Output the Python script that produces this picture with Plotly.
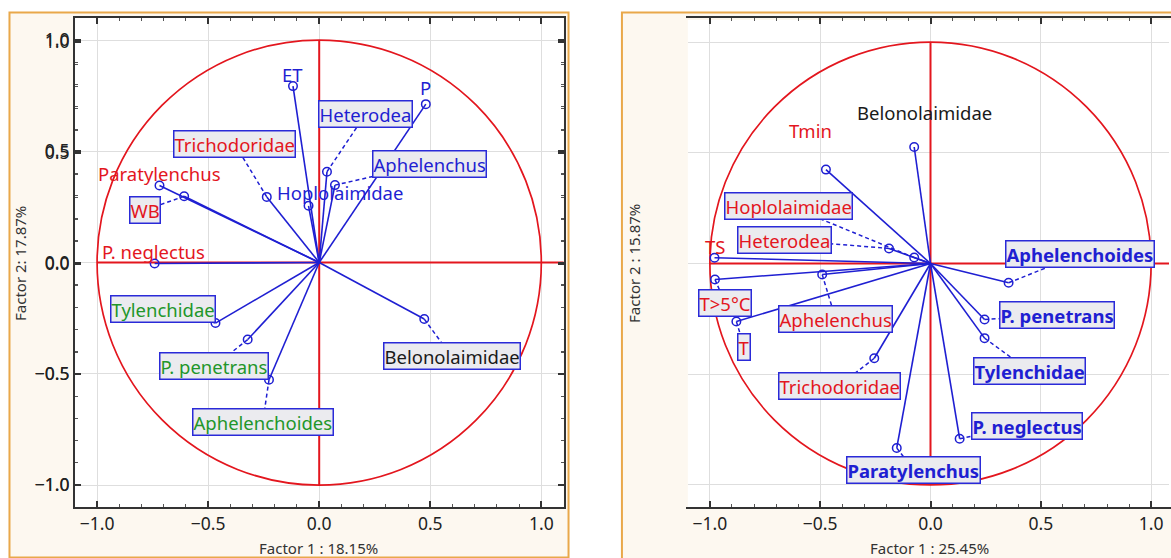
import plotly.graph_objects as go

# ---------------- data ----------------
left_vars = ["ET", "P", "Heterodea", "Aphelenchus", "Hoplolaimidae", "Trichodoridae",
             "Paratylenchus", "WB", "P. neglectus", "Tylenchidae", "P. penetrans",
             "Aphelenchoides", "Belonolaimidae"]
left_f1 = [-0.118, 0.480, 0.035, 0.071, -0.048, -0.236, -0.719, -0.608, -0.741,
           -0.467, -0.322, -0.226, 0.473]
left_f2 = [0.793, 0.712, 0.408, 0.348, 0.255, 0.295, 0.346, 0.298, -0.004,
           -0.272, -0.346, -0.527, -0.254]

right_vars = ["Belonolaimidae", "Tmin", "Hoplolaimidae", "Heterodea", "TS", "T>5°C",
              "Aphelenchus", "T", "Trichodoridae", "Aphelenchoides", "P. penetrans",
              "Tylenchidae", "P. neglectus", "Paratylenchus"]
right_f1 = [-0.074, -0.474, -0.074, -0.188, -0.979, -0.977, -0.491, -0.880, -0.255,
            0.354, 0.245, 0.245, 0.132, -0.153]
right_f2 = [0.526, 0.424, 0.027, 0.068, 0.026, -0.072, -0.050, -0.262, -0.428,
            -0.087, -0.253, -0.337, -0.791, -0.833]

left_x_title = "Factor 1 : 18.15%"
left_y_title = "Factor 2: 17.87%"
right_x_title = "Factor 1 : 25.45%"
right_y_title = "Factor 2 : 15.87%"
tick_vals = [-1.0, -0.5, 0.0, 0.5, 1.0]

# ---------------- label layout (positions / styles) ----------------
RED = "#E3161E"
BLUE = "#1F1FD2"
GREEN = "#22962A"
BLACK = "#1A1A1A"

left_lab_pos = [(-0.118, 0.847), (0.480, 0.787), (0.208, 0.666), (0.497, 0.445),
                (0.095, 0.313), (-0.380, 0.532), (-0.719, 0.400), (-0.786, 0.235),
                (-0.744, 0.048), (-0.703, -0.209), (-0.473, -0.466), (-0.254, -0.716),
                (0.596, -0.422)]
left_lab_col = [BLUE, BLUE, BLUE, BLUE, BLUE, RED, RED, RED, RED, GREEN, GREEN, GREEN, BLACK]
left_lab_box = [False, False, True, True, False, True, False, True, False, True, True, True, True]
left_lab_bold = [False] * 13

right_lab_pos = [(-0.026, 0.682), (-0.545, 0.600), (-0.644, 0.261), (-0.660, 0.106),
                 (-0.979, 0.078), (-0.931, -0.178), (-0.430, -0.250), (-0.845, -0.375),
                 (-0.413, -0.551), (0.679, 0.042), (0.572, -0.232), (0.450, -0.486),
                 (0.437, -0.732), (-0.077, -0.931)]
right_lab_col = [BLACK, RED, RED, RED, RED, RED, RED, RED, RED, BLUE, BLUE, BLUE, BLUE, BLUE]
right_lab_box = [False, False, True, True, False, True, True, True, True, True, True, True, True, True]
right_lab_bold = [False] * 9 + [True] * 5

FONT = "Noto Sans"
W, H = 1171, 558

fig = go.Figure()


def px_x(p):
    return p / W


def px_y(p):
    return 1 - p / H


# domains (pixel-based)
fig.update_layout(
    xaxis=dict(domain=[px_x(75), px_x(564.5)]),
    yaxis=dict(domain=[px_y(507.3), px_y(17.8)]),
    xaxis2=dict(domain=[px_x(689), 1.0]),
    yaxis2=dict(domain=[px_y(507.1), px_y(19.9)]),
)


def add_panel(xa, ya, f1, f2, lab_pos, lab_col, lab_box, lab_bold, names):
    # red unit circle and axes
    fig.add_shape(type="circle", xref=xa, yref=ya, x0=-1, y0=-1, x1=1, y1=1,
                  line=dict(color=RED, width=1.7), layer="between")
    fig.add_trace(go.Scatter(x=[-1, 1.12], y=[0, 0], mode="lines", xaxis=xa, yaxis=ya,
                             line=dict(color=RED, width=2), hoverinfo="skip", showlegend=False))
    fig.add_trace(go.Scatter(x=[0, 0], y=[-1, 1], mode="lines", xaxis=xa, yaxis=ya,
                             line=dict(color=RED, width=2), hoverinfo="skip", showlegend=False))
    # leader lines (dashed) to boxed labels
    for i in range(len(f1)):
        if lab_box[i]:
            fig.add_trace(go.Scatter(x=[f1[i], lab_pos[i][0]], y=[f2[i], lab_pos[i][1]],
                                     mode="lines", xaxis=xa, yaxis=ya,
                                     line=dict(color=BLUE, width=1.5, dash="4px,3px"),
                                     hoverinfo="skip", showlegend=False))
    # loading vectors
    for i in range(len(f1)):
        fig.add_trace(go.Scatter(x=[0, f1[i]], y=[0, f2[i]], mode="lines", xaxis=xa, yaxis=ya,
                                 line=dict(color=BLUE, width=1.6), hoverinfo="skip",
                                 showlegend=False))
    fig.add_trace(go.Scatter(x=f1, y=f2, mode="markers", xaxis=xa, yaxis=ya, text=names,
                             marker=dict(symbol="circle-open", size=8.5, color=BLUE,
                                         line=dict(width=1.5, color=BLUE)),
                             showlegend=False))
    # labels
    for i in range(len(f1)):
        txt = f"<b>{names[i]}</b>" if lab_bold[i] else names[i]
        kw = dict(x=lab_pos[i][0], y=lab_pos[i][1], xref=xa, yref=ya, text=txt,
                  showarrow=False, font=dict(family=FONT, size=18.5, color=lab_col[i]),
                  xanchor="center", yanchor="middle")
        if lab_box[i]:
            kw.update(bgcolor="#EBEBEF", bordercolor="#2A2AD8", borderwidth=1.5, borderpad=0)
        fig.add_annotation(**kw)


add_panel("x", "y", left_f1, left_f2, left_lab_pos, left_lab_col, left_lab_box,
          left_lab_bold, left_vars)
add_panel("x2", "y2", right_f1, right_f2, right_lab_pos, right_lab_col, right_lab_box,
          right_lab_bold, right_vars)

axis_common = dict(
    tickvals=tick_vals, tickformat=".1f", showgrid=True, gridcolor="#DEDEDE", gridwidth=1.2,
    zeroline=False, showline=True, linecolor="#333333", linewidth=1.8, mirror="allticks",
    ticks="inside", ticklen=6, tickwidth=1.5, tickcolor="#333333",
    minor=dict(dtick=0.1, tick0=0, ticks="inside", ticklen=3, tickcolor="#555555",
               tickwidth=1, showgrid=False),
    tickfont=dict(family=FONT, size=17.5, color="#222222"),
    ticklabeloverflow="allow",
)
fig.update_xaxes(**axis_common)
fig.update_yaxes(**axis_common)
fig.update_layout(
    xaxis=dict(range=[-1.1, 1.1]), yaxis=dict(range=[-1.1, 1.1]),
    xaxis2=dict(range=[-1.1, 1.081]), yaxis2=dict(range=[-1.1, 1.1]),
)

# frames (cream panels with orange borders) and white plot areas
frames = [
    dict(x0=9.5, x1=569.5, y0=12.5, y1=557.5),
    dict(x0=623, x1=1180, y0=12.5, y1=570),
]
for fr in frames:
    fig.add_shape(type="rect", xref="paper", yref="paper", layer="below",
                  x0=px_x(fr["x0"]), x1=px_x(fr["x1"]), y0=px_y(fr["y1"]), y1=px_y(fr["y0"]),
                  fillcolor="#FDF8F0", line=dict(color="#E9A84A", width=2))
for (a, b, c, d) in [(75, 564.5, 17.8, 507.3), (689, 1180, 19.9, 507.1)]:
    fig.add_shape(type="rect", xref="paper", yref="paper", layer="below",
                  x0=px_x(a), x1=px_x(b), y0=px_y(d), y1=px_y(c),
                  fillcolor="white", line=dict(width=0))

# axis titles
title_font = dict(family=FONT, size=15, color="#333333")
fig.add_annotation(x=px_x(319.5), y=px_y(548), xref="paper", yref="paper", text=left_x_title,
                   showarrow=False, font=title_font, xanchor="center", yanchor="middle")
fig.add_annotation(x=px_x(20), y=px_y(263), xref="paper", yref="paper", text=left_y_title,
                   showarrow=False, font=title_font, textangle=-90, xanchor="center",
                   yanchor="middle")
fig.add_annotation(x=px_x(931), y=px_y(548), xref="paper", yref="paper", text=right_x_title,
                   showarrow=False, font=title_font, xanchor="center", yanchor="middle")
fig.add_annotation(x=px_x(635), y=px_y(263), xref="paper", yref="paper", text=right_y_title,
                   showarrow=False, font=title_font, textangle=-90, xanchor="center",
                   yanchor="middle")

fig.update_layout(width=W, height=H, margin=dict(l=0, r=0, t=0, b=0),
                  paper_bgcolor="white", plot_bgcolor="white", showlegend=False,
                  font=dict(family=FONT), hovermode=False)

fig.write_html("out.html", config={"displayModeBar": False},
               post_script="document.body.style.margin='0';document.body.style.overflow='hidden';")
